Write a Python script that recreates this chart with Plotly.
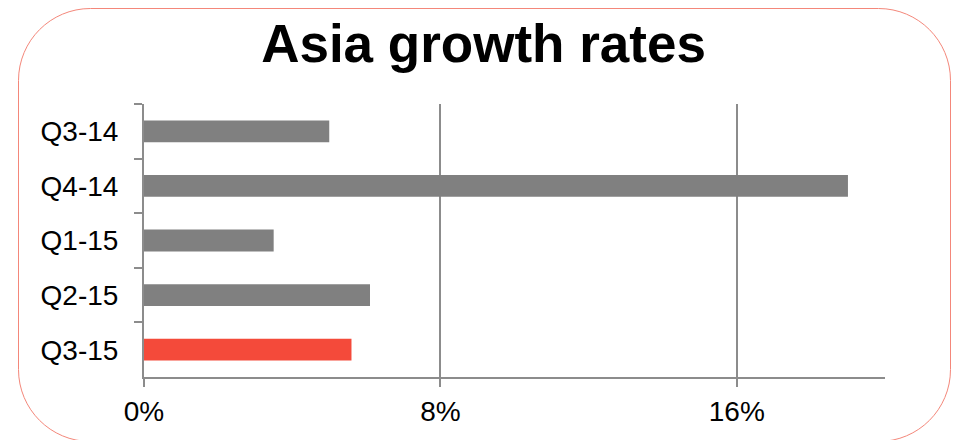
import plotly.graph_objects as go

# Quarterly growth figures (percent)
quarters = ["Q3-14", "Q4-14", "Q1-15", "Q2-15", "Q3-15"]
growth = [5.0, 19.0, 3.5, 6.1, 5.6]
bar_colors = ["#808080", "#808080", "#808080", "#808080", "#F44A3A"]
tick_values = [0, 8, 16]
tick_labels = ["0%", "8%", "16%"]

W, H = 955, 440
L, R, T, B = 144, 70, 104, 63
PW, PH = W - L - R, H - T - B

FONT = "Liberation Sans, Arial, sans-serif"
AXIS_GRAY = "#8C8C8C"


def px(x):
    return (x - L) / PW


def py(y):
    return (H - B - y) / PH


def rounded_rect(x0, y0, x1, y1, r):
    k = 0.5523 * r
    pts = [
        f"M{px(x0 + r)},{py(y0)}",
        f"L{px(x1 - r)},{py(y0)}",
        f"C{px(x1 - r + k)},{py(y0)} {px(x1)},{py(y0 + r - k)} {px(x1)},{py(y0 + r)}",
        f"L{px(x1)},{py(y1 - r)}",
        f"C{px(x1)},{py(y1 - r + k)} {px(x1 - r + k)},{py(y1)} {px(x1 - r)},{py(y1)}",
        f"L{px(x0 + r)},{py(y1)}",
        f"C{px(x0 + r - k)},{py(y1)} {px(x0)},{py(y1 - r + k)} {px(x0)},{py(y1 - r)}",
        f"L{px(x0)},{py(y0 + r)}",
        f"C{px(x0)},{py(y0 + r - k)} {px(x0 + r - k)},{py(y0)} {px(x0 + r)},{py(y0)}",
        "Z",
    ]
    return " ".join(pts)


fig = go.Figure(
    go.Bar(
        x=growth,
        y=quarters,
        orientation="h",
        marker=dict(color=bar_colors, line=dict(width=0)),
        hoverinfo="skip",
    )
)

fig.update_layout(
    width=W,
    height=H,
    margin=dict(l=L, r=R, t=T, b=B, pad=0),
    paper_bgcolor="white",
    plot_bgcolor="white",
    bargap=0.6,
    showlegend=False,
    font=dict(family=FONT, color="black"),
    title=dict(
        text="<b>Asia growth rates</b>",
        font=dict(family=FONT, size=53, color="black"),
        x=483.5 / W,
        xref="container",
        xanchor="center",
        y=1 - 43 / H,
        yref="container",
        yanchor="middle",
    ),
    xaxis=dict(
        range=[0, 20],
        tickvals=tick_values,
        ticktext=tick_labels,
        showgrid=True,
        gridcolor=AXIS_GRAY,
        gridwidth=2,
        zeroline=False,
        showline=True,
        linecolor=AXIS_GRAY,
        linewidth=2,
        ticks="outside",
        ticklen=8,
        tickwidth=2,
        tickcolor=AXIS_GRAY,
        tickfont=dict(family=FONT, size=28, color="black"),
        fixedrange=True,
    ),
    yaxis=dict(
        categoryorder="array",
        categoryarray=quarters,
        autorange="reversed",
        showgrid=False,
        zeroline=False,
        showline=True,
        linecolor=AXIS_GRAY,
        linewidth=2,
        ticks="outside",
        tickson="boundaries",
        ticklen=8,
        tickwidth=2,
        tickcolor=AXIS_GRAY,
        tickfont=dict(family=FONT, size=28, color="black"),
        ticklabelstandoff=18,
        fixedrange=True,
    ),
    shapes=[
        dict(
            type="path",
            xref="paper",
            yref="paper",
            path=rounded_rect(18.5, 8.5, 950.5, 441.5, 72),
            line=dict(color="#F4877A", width=1),
            fillcolor="rgba(0,0,0,0)",
            layer="below",
        )
    ],
)

fig.write_html("out.html", config={"displayModeBar": False})
